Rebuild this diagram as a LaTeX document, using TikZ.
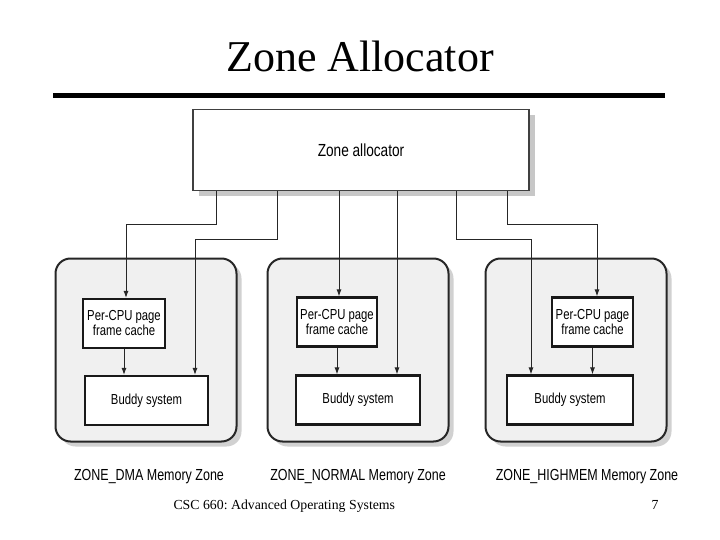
\documentclass[tikz,border=0pt]{standalone}
\usepackage{fontspec}
\setmainfont{Liberation Serif}
\newfontfamily\diagfont[FakeStretch=0.78]{Liberation Sans}
\usetikzlibrary{positioning,arrows.meta,shadows}
\frenchspacing

\tikzset{
  allocbox/.style={draw=black!75, line width=1.6pt, fill=white,
    minimum width=336pt, minimum height=81pt,
    drop shadow={shadow xshift=6pt, shadow yshift=-6pt, fill=black!22, opacity=1},
    font=\diagfont\fontsize{17.5}{20}\selectfont},
  zonebox/.style={draw=black!85, line width=2pt, rounded corners=15pt, fill=black!6,
    minimum width=181pt, minimum height=183pt,
    drop shadow={shadow xshift=5pt, shadow yshift=-5pt, fill=black!18, opacity=1}},
  unitbox/.style={draw=black!90, line width=2.2pt, fill=white, minimum height=49pt,
    align=center, inner sep=1pt, font=\diagfont\fontsize{14.5}{15}\selectfont},
  zonelabel/.style={inner sep=0pt, font=\diagfont\fontsize{16}{18}\selectfont},
  link/.style={draw=black!85, line width=0.9pt, -{Latex[length=7pt,width=5pt]}},
}

\begin{document}
\begin{tikzpicture}[x=1pt,y=-1pt]
\useasboundingbox (0,0) rectangle (720,540);

% title and rule
\node[anchor=base, font=\fontsize{44}{48}\selectfont] (title) at (360,72) {Zone Allocator};
\draw[line width=4.5pt] (53,95.5) -- (665,95.5);

\node[allocbox] (alloc) at (361,150) {Zone allocator};

% memory zones
\node[zonebox] (dma) at (146,350) {};
\node[zonebox] (normal) at (358,350) {};
\node[zonebox] (high) at (576,350) {};

\node[unitbox, minimum width=82pt] (dmacache) at (124,323.5) {Per-CPU page\\frame cache};
\node[unitbox, minimum width=123pt] (dmabuddy) at (146.5,400.5) {Buddy system};
\node[unitbox, minimum width=80pt] (normalcache) at (337,322) {Per-CPU page\\frame cache};
\node[unitbox, minimum width=124pt] (normalbuddy) at (358,400) {Buddy system};
\node[unitbox, minimum width=81pt] (highcache) at (592.5,322) {Per-CPU page\\frame cache};
\node[unitbox, minimum width=126pt] (highbuddy) at (570,400) {Buddy system};

\node[zonelabel, below=27pt of dma, xshift=3pt] (dmalabel) {ZONE\_DMA Memory Zone};
\node[zonelabel, below=27pt of normal] (normallabel) {ZONE\_NORMAL Memory Zone};
\node[zonelabel, below=27pt of high, xshift=11pt] (highlabel) {ZONE\_HIGHMEM Memory Zone};

% allocator to zones
\draw[link] (alloc.south -| 216,0) -- ++(0,33) -| ([xshift=2pt]dmacache.north);
\draw[link] (alloc.south -| 277,0) -- ++(0,48) -| (dmabuddy.north -| 195,0);
\draw[link] (alloc.south -| 339,0) -- (normalcache.north -| 339,0);
\draw[link] (alloc.south -| 397,0) -- (normalbuddy.north -| 397,0);
\draw[link] (alloc.south -| 456,0) -- ++(0,48) -| (highbuddy.north -| 531,0);
\draw[link] (alloc.south -| 507,0) -- ++(0,33) -| (highcache.north -| 597,0);

% cache to buddy
\draw[link] (dmacache.south) -- (dmacache.south |- dmabuddy.north);
\draw[link] (normalcache.south) -- (normalcache.south |- normalbuddy.north);
\draw[link] (highcache.south) -- (highcache.south |- highbuddy.north);

% footer
\node[anchor=base west, font=\fontsize{13.8}{16}\selectfont] (course) at (170,509) {CSC 660: Advanced Operating Systems};
\node[anchor=base, font=\fontsize{13.8}{16}\selectfont] (page) at (655,509) {7};
\end{tikzpicture}
\end{document}
